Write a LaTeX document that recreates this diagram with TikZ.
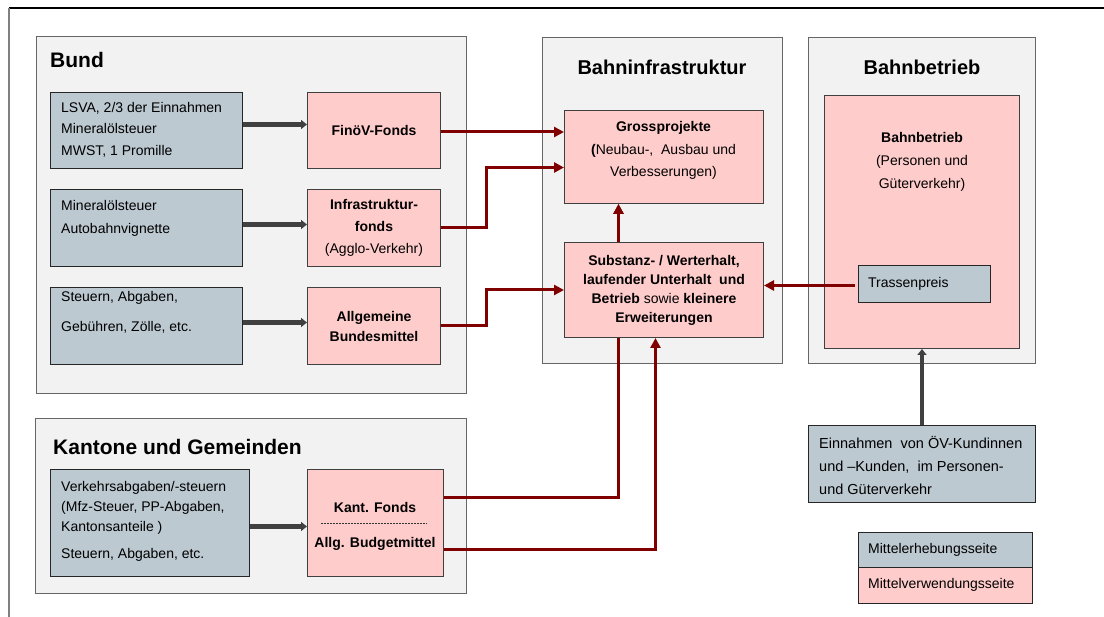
\documentclass[tikz,border=0pt]{standalone}
\usepackage{fontspec}
\setmainfont{Liberation Sans}
\usetikzlibrary{arrows.meta}
\definecolor{srcgrey}{RGB}{189,201,209}
\definecolor{usepink}{RGB}{255,204,204}
\definecolor{panelgrey}{RGB}{242,242,242}
\definecolor{flowred}{RGB}{128,0,0}
\definecolor{flowgrey}{RGB}{64,64,64}
\pgfdeclarelayer{back}
\pgfdeclarelayer{mid}
\pgfsetlayers{back,mid,main}

\begin{document}
\begin{tikzpicture}[x=1pt,y=-1pt,
  panel/.style={draw=black!60, line width=1pt, fill=panelgrey, anchor=north west, inner sep=0pt},
  srcbox/.style={draw=black!85, line width=1pt, fill=srcgrey, anchor=north west, inner sep=0pt},
  usebox/.style={draw=black!75, line width=1pt, fill=usepink, anchor=north west, inner sep=0pt,
    align=center, font=\fontsize{14}{21}\selectfont\bfseries},
  title/.style={font=\fontsize{21}{25}\selectfont\bfseries, inner sep=0pt},
  txt/.style={font=\fontsize{14}{21.5}\selectfont, align=left, anchor=west, inner sep=0pt},
  ctxt/.style={font=\fontsize{14}{22}\selectfont, align=center, inner sep=0pt},
  redflow/.style={draw=flowred, line width=3pt, -{Triangle[length=10pt,width=10pt]}},
  greyflow/.style={draw=flowgrey, line width=4.5pt, -{Triangle[length=6pt,width=9pt]}},
]
\useasboundingbox (0,0) rectangle (1104,617);

% outer frame edges
\draw[black, line width=1.2pt] (9,8) -- (1104,8);
\draw[gray, line width=1.2pt] (9,8) -- (9,617);

% panels
\begin{pgfonlayer}{back}
\node[panel, minimum width=430pt, minimum height=357pt] (bund) at (36,36) {};
\node[panel, minimum width=431pt, minimum height=175pt] (kanton) at (35,418) {};
\node[panel, minimum width=240pt, minimum height=326pt] (infra) at (542,37) {};
\node[panel, minimum width=227pt, minimum height=326pt] (betrieb) at (808,37) {};
\end{pgfonlayer}

% panel titles
\node[title, anchor=west] (tbund) at (50,60) {Bund};
\node[title, anchor=west] (tkanton) at (53,447) {Kantone und Gemeinden};
\node[title, font=\fontsize{20}{24}\selectfont\bfseries] (tinfra) at (662,67) {Bahninfrastruktur};
\node[title, font=\fontsize{20}{24}\selectfont\bfseries] (tbetrieb) at (922,67) {Bahnbetrieb};

% Bund: sources
\node[srcbox, minimum width=192pt, minimum height=76pt] (src1) at (50,92) {};
\node[txt] (src1t) at (61,129.5) {LSVA, 2/3 der Einnahmen\\Mineralölsteuer\\MWST, 1 Promille};
\node[srcbox, minimum width=192pt, minimum height=77pt] (src2) at (50,189) {};
\node[txt, font=\fontsize{14}{23}\selectfont] (src2t) at (61,218.5) {Mineralölsteuer\\Autobahnvignette};
\node[srcbox, minimum width=192pt, minimum height=77pt] (src3) at (50,287) {};
\node[txt, font=\fontsize{14}{30}\selectfont] (src3t) at (61,312.5) {Steuern, Abgaben,\\Gebühren, Zölle, etc.};

% Bund: funds
\node[usebox, minimum width=133pt, minimum height=76pt] (fin) at (307,92) {FinöV-Fonds};
\node[usebox, minimum width=133pt, minimum height=77pt, font=\fontsize{14}{22}\selectfont\bfseries] (ifonds) at (307,189) {Infrastruktur-\\fonds\\{\mdseries(Agglo-Verkehr)}};
\node[usebox, minimum width=133pt, minimum height=77pt, font=\fontsize{14}{20}\selectfont\bfseries] (abm) at (307,287) {Allgemeine\\Bundesmittel};

% Kantone und Gemeinden
\node[srcbox, minimum width=199pt, minimum height=107pt] (ksrc) at (50,469) {};
\node[txt, font=\fontsize{14}{20}\selectfont] (ksrct) at (61,521) {Verkehrsabgaben/-steuern\\(Mfz-Steuer, PP-Abgaben,\\Kantonsanteile )\\[7pt]Steuern, Abgaben, etc.};
\node[usebox, minimum width=136pt, minimum height=107pt] (kbox) at (307,469) {};
\node[ctxt, font=\fontsize{14}{20}\selectfont\bfseries] (kfonds) at (375,507) {Kant. Fonds};
\node[ctxt, font=\fontsize{14}{20}\selectfont\bfseries] (kbudget) at (375,544) {Allg. Budgetmittel};
\coordinate (kdashA) at (321,523);
\coordinate (kdashB) at (427,523);
\draw[black!80, line width=0.6pt, dash pattern=on 2pt off 1pt] (kdashA) -- (kdashB);

% Bahninfrastruktur
\node[usebox, minimum width=199pt, minimum height=93pt] (gross) at (564,110) {};
\node[ctxt, font=\fontsize{14}{22.5}\selectfont] (grosst) at (663.5,150.5) {\textbf{Grossprojekte}\\\textbf{(}Neubau-,\ \ Ausbau und\\Verbesserungen)};
\node[usebox, minimum width=199pt, minimum height=95pt, font=\fontsize{14}{19}\selectfont\bfseries] (subst) at (564,242) {Substanz- / Werterhalt,\\laufender Unterhalt\ \ und\\Betrieb {\mdseries sowie} kleinere\\Erweiterungen};

% Bahnbetrieb
\node[usebox, minimum width=195pt, minimum height=253pt] (bbox) at (824,95) {};
\node[ctxt, font=\fontsize{14}{23}\selectfont] (bboxt) at (922,162) {\textbf{Bahnbetrieb}\\(Personen und\\Güterverkehr)};
\node[srcbox, minimum width=132pt, minimum height=37pt] (trasse) at (858,265) {};
\node[txt] (trasset) at (868,283.5) {Trassenpreis};

% customer revenue
\node[srcbox, minimum width=227pt, minimum height=77pt] (einn) at (808,425) {};
\node[txt, font=\fontsize{14.5}{23}\selectfont] (einnt) at (819,466) {Einnahmen\ \ von ÖV-Kundinnen\\und –Kunden,\ \ im Personen-\\und Güterverkehr};

% legend
\node[srcbox, minimum width=174pt, minimum height=35pt] (legsrc) at (858,532) {};
\node[txt] (legsrct) at (868,550) {Mittelerhebungsseite};
\node[usebox, draw=black!85, minimum width=174pt, minimum height=36pt] (leguse) at (858,567) {};
\node[txt] (leguset) at (868,585) {Mittelverwendungsseite};

% flows
\begin{pgfonlayer}{mid}
\draw[greyflow] ([yshift=6pt]src1.east) -- ([yshift=6pt]fin.west);
\draw[greyflow] ([yshift=3.5pt]src2.east) -- ([yshift=3.5pt]ifonds.west);
\draw[greyflow] ([yshift=3.5pt]src3.east) -- ([yshift=3.5pt]abm.west);
\draw[greyflow] ([yshift=-3.5pt]ksrc.east) -- ([yshift=-3.5pt]kbox.west);
\draw[greyflow] (einn.north) -- (einn.north |- bbox.south);

\draw[redflow] ([yshift=-1.5pt]fin.east) -- ([yshift=-1.5pt]fin.east -| gross.west);
\draw[redflow] (ifonds.east) -- ++(45,0) |- ([yshift=-10.5pt]gross.west);
\draw[redflow] (abm.east) -- ++(45,0) |- (subst.west);
\draw[redflow] ([xshift=-45.5pt]subst.north) -- ([xshift=-45.5pt]gross.south);
\draw[redflow] ([yshift=25.5pt]kbox.east) -| ([xshift=-45.5pt]gross.south);
\draw[redflow] ([yshift=-26.5pt]kbox.east) -| ([xshift=-8.5pt]subst.south);
\end{pgfonlayer}
% track-access charge runs across the operations box
\draw[redflow] ([xshift=-3pt,yshift=-1.5pt]trasse.west) -- ([yshift=-1.5pt]trasse.west -| subst.east);
\end{tikzpicture}
\end{document}
